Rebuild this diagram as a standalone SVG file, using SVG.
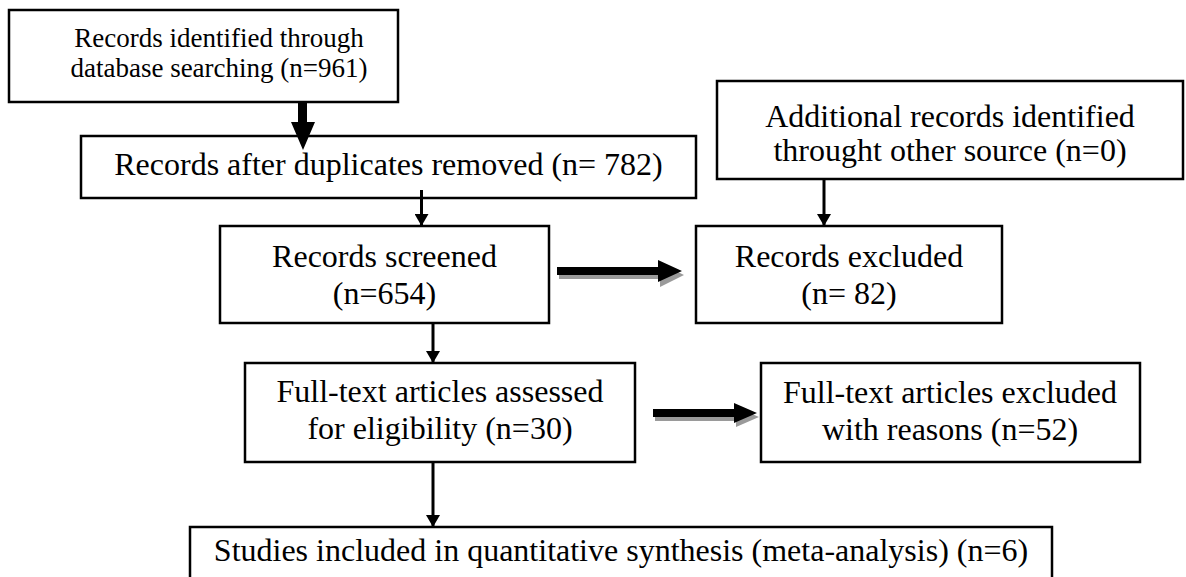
<svg xmlns="http://www.w3.org/2000/svg" width="1186" height="577" viewBox="0 0 1186 577">
  <style>
    .box { fill: #ffffff; stroke: #000000; stroke-width: 2.5; }
    .lbl { font-family: "Liberation Serif", "Times New Roman", serif; font-size: 32px; fill: #000000; text-anchor: middle; }
    .lbl-sm { font-family: "Liberation Serif", "Times New Roman", serif; font-size: 27px; fill: #000000; text-anchor: middle; }
    .link { stroke: #000000; stroke-width: 3; fill: none; }
    .block { fill: #000000; }
    .shade { fill: #9a9a9a; }
  </style>
  <defs>
    <marker id="head" markerUnits="userSpaceOnUse" markerWidth="12" markerHeight="14" refX="12" refY="7" orient="auto">
      <path d="M0,0 L12,7 L0,14 Z" fill="#000000"/>
    </marker>
  </defs>

  <rect width="1186" height="577" fill="#ffffff"/>

  <g id="identified">
    <rect class="box" x="9" y="10" width="389" height="92"/>
    <text class="lbl-sm" x="219" y="47">Records identified through</text>
    <text class="lbl-sm" x="219" y="77">database searching (n=961)</text>
  </g>

  <g id="duplicates-removed">
    <rect class="box" x="81" y="136" width="615" height="62"/>
    <text class="lbl" x="388.5" y="175">Records after duplicates removed (n= 782)</text>
  </g>

  <g id="additional">
    <rect class="box" x="717" y="81" width="466" height="98"/>
    <text class="lbl" x="950" y="127">Additional records identified</text>
    <text class="lbl" x="950" y="161">throught other source (n=0)</text>
  </g>

  <g id="screened">
    <rect class="box" x="220" y="226" width="329" height="97"/>
    <text class="lbl" x="384.5" y="267">Records screened</text>
    <text class="lbl" x="384.5" y="304">(n=654)</text>
  </g>

  <g id="excluded">
    <rect class="box" x="696" y="226" width="306" height="97"/>
    <text class="lbl" x="849" y="267">Records excluded</text>
    <text class="lbl" x="849" y="304">(n= 82)</text>
  </g>

  <g id="eligibility">
    <rect class="box" x="245" y="363" width="390" height="99"/>
    <text class="lbl" x="440" y="402">Full-text articles assessed</text>
    <text class="lbl" x="440" y="439">for eligibility (n=30)</text>
  </g>

  <g id="excluded-reasons">
    <rect class="box" x="761" y="363" width="379" height="99"/>
    <text class="lbl" x="950" y="403">Full-text articles excluded</text>
    <text class="lbl" x="950" y="440">with reasons (n=52)</text>
  </g>

  <g id="included">
    <rect class="box" x="190" y="527" width="862" height="70"/>
    <text class="lbl" x="621" y="561">Studies included in quantitative synthesis (meta-analysis) (n=6)</text>
  </g>

  <g id="connectors">
    <!-- heavy downward arrow into the de-duplicated set -->
    <polygon class="block" points="298,102 307,102 307,122 315,122 303,150 291,122 298,122"/>

    <!-- thin flow arrows -->
    <line class="link" x1="421.5" y1="190" x2="421.5" y2="226" marker-end="url(#head)"/>
    <line class="link" x1="824" y1="179" x2="824" y2="226" marker-end="url(#head)"/>
    <line class="link" x1="433" y1="323" x2="433" y2="363" marker-end="url(#head)"/>
    <line class="link" x1="433" y1="462" x2="433" y2="527" marker-end="url(#head)"/>

    <!-- heavy arrow with drop shadow: screened to excluded -->
    <polygon class="shade" points="559,271 660,271 660,263 684,275 660,287 660,279 559,279"/>
    <polygon class="block" points="557,267 658,267 658,260 682,271 658,282 658,275 557,275"/>

    <!-- heavy arrow with drop shadow: eligibility to excluded with reasons -->
    <polygon class="shade" points="655,413 736,413 736,407 759,417 736,427 736,421 655,421"/>
    <polygon class="block" points="653,409 734,409 734,403 757,413 734,423 734,417 653,417"/>
  </g>
</svg>
